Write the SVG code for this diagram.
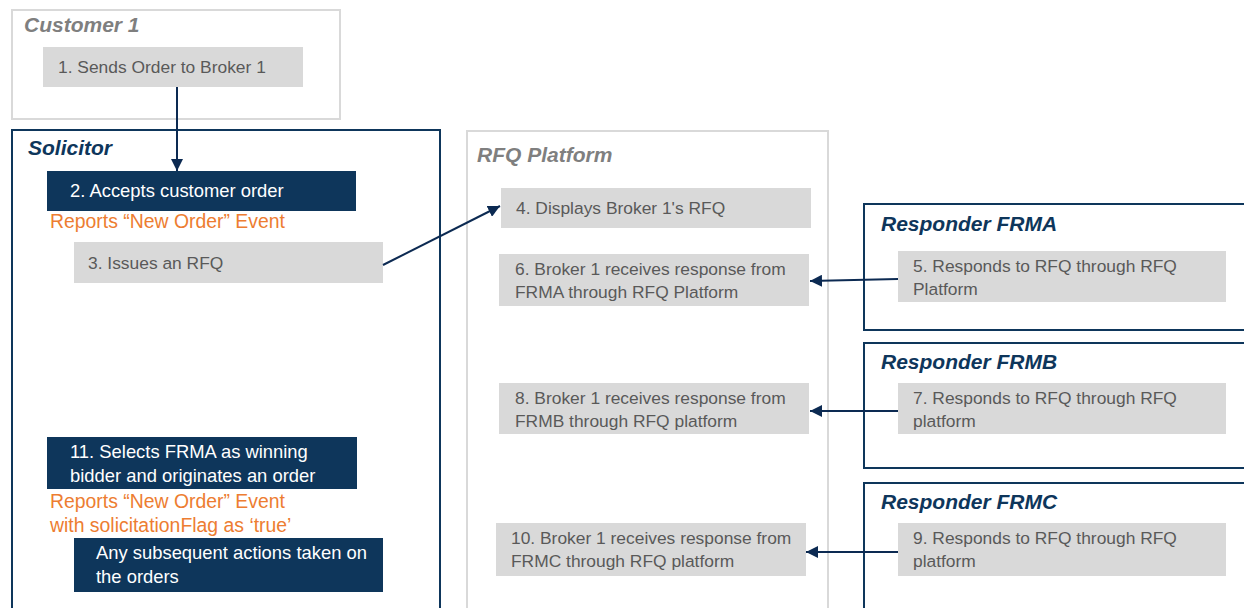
<svg xmlns="http://www.w3.org/2000/svg" width="1244" height="608" viewBox="0 0 1244 608">
<style>
.lane-gray{fill:#fff;stroke:#d9d9d9;stroke-width:2}
.lane-navy{fill:#fff;stroke:#0e365b;stroke-width:2}
.t-gray{font-family:"Liberation Sans",Arial,sans-serif;font-size:21px;font-weight:bold;font-style:italic;fill:#7f7f7f}
.t-navy{font-family:"Liberation Sans",Arial,sans-serif;font-size:21px;font-weight:bold;font-style:italic;fill:#0e365b}
.box-g{fill:#d9d9d9}
.box-n{fill:#0e365b}
.txt-g{font-family:"Liberation Sans",Arial,sans-serif;font-size:17.4px;fill:#595959}
.txt-w{font-family:"Liberation Sans",Arial,sans-serif;font-size:18.4px;fill:#ffffff}
.txt-o{font-family:"Liberation Sans",Arial,sans-serif;font-size:19.4px;fill:#ed7d31}
.conn{stroke:#0c2a52;stroke-width:2;fill:none;marker-end:url(#ah)}
</style>
<defs>
<marker id="ah" markerUnits="userSpaceOnUse" markerWidth="12" markerHeight="12" refX="12" refY="6" orient="auto">
<path d="M0,0 L12,6 L0,12 z" fill="#0c2a52"/>
</marker>
</defs>
<rect width="1244" height="608" fill="#fff"/>

<g id="customer1">
<rect class="lane-gray" x="12" y="10" width="328" height="109"/>
<text class="t-gray" x="24" y="32">Customer 1</text>
</g>
<g id="solicitor">
<rect class="lane-navy" x="12" y="130" width="428" height="490"/>
<text class="t-navy" x="28" y="155">Solicitor</text>
</g>
<g id="rfq-platform">
<rect class="lane-gray" x="467" y="131" width="361" height="490"/>
<text class="t-gray" x="477" y="162">RFQ Platform</text>
</g>
<g id="responder-frma">
<rect class="lane-navy" x="864" y="204" width="400" height="126"/>
<text class="t-navy" x="881" y="231">Responder FRMA</text>
</g>
<g id="responder-frmb">
<rect class="lane-navy" x="864" y="343" width="400" height="125"/>
<text class="t-navy" x="881" y="369">Responder FRMB</text>
</g>
<g id="responder-frmc">
<rect class="lane-navy" x="864" y="483" width="400" height="140"/>
<text class="t-navy" x="881" y="509">Responder FRMC</text>
</g>

<g id="step1">
<rect class="box-g" x="43" y="47" width="260" height="40"/>
<text class="txt-g" x="58" y="73">1. Sends Order to Broker 1</text>
</g>
<g id="step2">
<rect class="box-n" x="47" y="171" width="309" height="40"/>
<text class="txt-w" x="70" y="197">2. Accepts customer order</text>
<text class="txt-o" x="50" y="228">Reports “New Order” Event</text>
</g>
<g id="step3">
<rect class="box-g" x="74" y="242" width="309" height="41"/>
<text class="txt-g" x="88" y="269">3. Issues an RFQ</text>
</g>
<g id="step11">
<rect class="box-n" x="47" y="437" width="310" height="52"/>
<text class="txt-w" x="70" y="458">11. Selects FRMA as winning</text>
<text class="txt-w" x="70" y="482">bidder and originates an order</text>
<text class="txt-o" x="50" y="508">Reports “New Order” Event</text>
<text class="txt-o" x="50" y="532">with solicitationFlag as ‘true’</text>
</g>
<g id="step-subsequent">
<rect class="box-n" x="74" y="538" width="309" height="54"/>
<text class="txt-w" x="96" y="559">Any subsequent actions taken on</text>
<text class="txt-w" x="96" y="583">the orders</text>
</g>
<g id="step4">
<rect class="box-g" x="501" y="188" width="310" height="40"/>
<text class="txt-g" x="516" y="214">4. Displays Broker 1's RFQ</text>
</g>
<g id="step6">
<rect class="box-g" x="499" y="254" width="310" height="52"/>
<text class="txt-g" x="515" y="275">6. Broker 1 receives response from</text>
<text class="txt-g" x="515" y="298">FRMA through RFQ Platform</text>
</g>
<g id="step8">
<rect class="box-g" x="499" y="383" width="310" height="51"/>
<text class="txt-g" x="515" y="404">8. Broker 1 receives response from</text>
<text class="txt-g" x="515" y="427">FRMB through RFQ platform</text>
</g>
<g id="step10">
<rect class="box-g" x="496" y="523" width="310" height="53"/>
<text class="txt-g" x="511" y="544">10. Broker 1 receives response from</text>
<text class="txt-g" x="511" y="567">FRMC through RFQ platform</text>
</g>
<g id="step5">
<rect class="box-g" x="898" y="251" width="328" height="51"/>
<text class="txt-g" x="913" y="272">5. Responds to RFQ through RFQ</text>
<text class="txt-g" x="913" y="295">Platform</text>
</g>
<g id="step7">
<rect class="box-g" x="898" y="383" width="328" height="51"/>
<text class="txt-g" x="913" y="404">7. Responds to RFQ through RFQ</text>
<text class="txt-g" x="913" y="427">platform</text>
</g>
<g id="step9">
<rect class="box-g" x="898" y="523" width="328" height="53"/>
<text class="txt-g" x="913" y="544">9. Responds to RFQ through RFQ</text>
<text class="txt-g" x="913" y="567">platform</text>
</g>

<g id="connectors">
<line class="conn" x1="177" y1="87" x2="177" y2="171"/>
<line class="conn" x1="383" y1="265" x2="500" y2="206"/>
<line class="conn" x1="898" y1="279" x2="810" y2="281"/>
<line class="conn" x1="898" y1="411" x2="810" y2="411"/>
<line class="conn" x1="898" y1="552" x2="806" y2="552"/>
</g>
</svg>
